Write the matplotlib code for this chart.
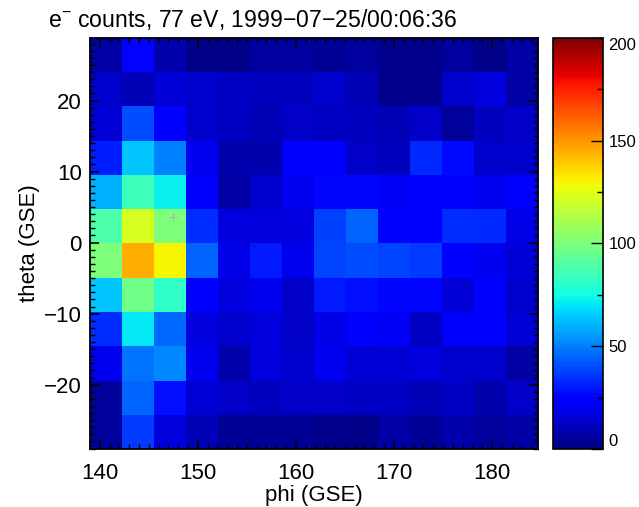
import numpy as np
import matplotlib
matplotlib.use("Agg")
import matplotlib.pyplot as plt
from matplotlib.ticker import MultipleLocator

plt.rcParams['font.family'] = ['Liberation Sans', 'DejaVu Sans']
plt.rcParams['mathtext.fontset'] = 'custom'
plt.rcParams['mathtext.rm'] = 'Liberation Sans'

### data
title = "e$^{-}$ counts, 77 eV, 1999\u221207\u221225/00:06:36"
# bin edges of the angular grid
phi_edges = np.linspace(139.0, 184.7, 15)
theta_edges = np.linspace(-29.06, 28.8, 13)
# counts, top row (highest theta) first
counts_top_down = [
    [7, 25, 8, 2, 2, 6, 6, 4, 6, 3, 3, 6, 2, 7],
    [14, 10, 15, 14, 12, 11, 11, 14, 10, 3, 3, 14, 17, 7],
    [15, 40, 23, 14, 12, 10, 13, 12, 11, 10, 13, 5, 11, 13],
    [31, 64, 50, 20, 8, 8, 22, 22, 13, 11, 33, 27, 14, 14],
    [60, 85, 72, 22, 7, 14, 20, 26, 26, 21, 23, 24, 20, 23],
    [89, 122, 100, 34, 17, 17, 17, 38, 45, 23, 23, 34, 33, 18],
    [100, 145, 130, 45, 18, 30, 20, 39, 40, 39, 36, 23, 20, 15],
    [64, 97, 82, 23, 17, 20, 13, 30, 28, 26, 26, 15, 22, 14],
    [34, 71, 46, 17, 14, 17, 13, 18, 22, 21, 12, 22, 22, 15],
    [20, 48, 52, 20, 8, 17, 14, 20, 15, 15, 17, 14, 14, 7],
    [5, 45, 28, 15, 13, 11, 13, 13, 12, 12, 10, 12, 8, 13],
    [5, 36, 17, 10, 4, 4, 4, 3, 2, 7, 4, 8, 5, 7],
]
cbar_ticks = [0, 50, 100, 150, 200]
# small marker seen in the picture
mark_phi, mark_theta = 147.5, 3.6

### figure
fig = plt.figure(figsize=(6.39, 5.07), dpi=100)
ax = fig.add_axes([90/639, 1 - 449/507, 448/639, 411/507])
cax = fig.add_axes([553/639, 1 - 449/507, 50/639, 411/507])

counts = np.array(counts_top_down)[::-1]
mesh = ax.pcolormesh(phi_edges, theta_edges, counts, cmap='jet', vmin=0, vmax=200)
ax.plot(mark_phi, mark_theta, '+', color='#b0b0b0', ms=6, mew=0.8)

ax.set_xlim(phi_edges[0], phi_edges[-1])
ax.set_ylim(theta_edges[0], theta_edges[-1])
ax.xaxis.set_major_locator(MultipleLocator(10))
ax.xaxis.set_minor_locator(MultipleLocator(1))
ax.yaxis.set_major_locator(MultipleLocator(10))
ax.yaxis.set_minor_locator(MultipleLocator(1))
ax.tick_params(which='both', direction='in', top=True, right=True, labelsize=16)
ax.tick_params(which='major', length=6.7, width=1.2)
ax.tick_params(which='minor', length=3.6, width=1.0)
ax.tick_params(axis='x', pad=10)
ax.tick_params(axis='y', pad=6)
for s in ax.spines.values():
    s.set_linewidth(1.3)

ax.set_xlabel("phi (GSE)", fontsize=16, labelpad=1)
ax.set_ylabel("theta (GSE)", fontsize=16, labelpad=3)

fig.text(48/639, 1 - 27/507, title, fontsize=16.6, ha='left', va='baseline')

# colorbar
cb = fig.colorbar(mesh, cax=cax, ticks=cbar_ticks)
cb.outline.set_linewidth(1.2)
cax.yaxis.set_minor_locator(MultipleLocator(25))
cax.tick_params(which='both', direction='in', labelsize=12, pad=4)
cax.tick_params(which='major', length=8.6, width=1.0)
cax.tick_params(which='minor', length=4.3, width=1.0)
labs = cax.get_yticklabels()
labs[0].set_va('bottom')
labs[-1].set_va('top')

plt.savefig("out.png", dpi=100)
